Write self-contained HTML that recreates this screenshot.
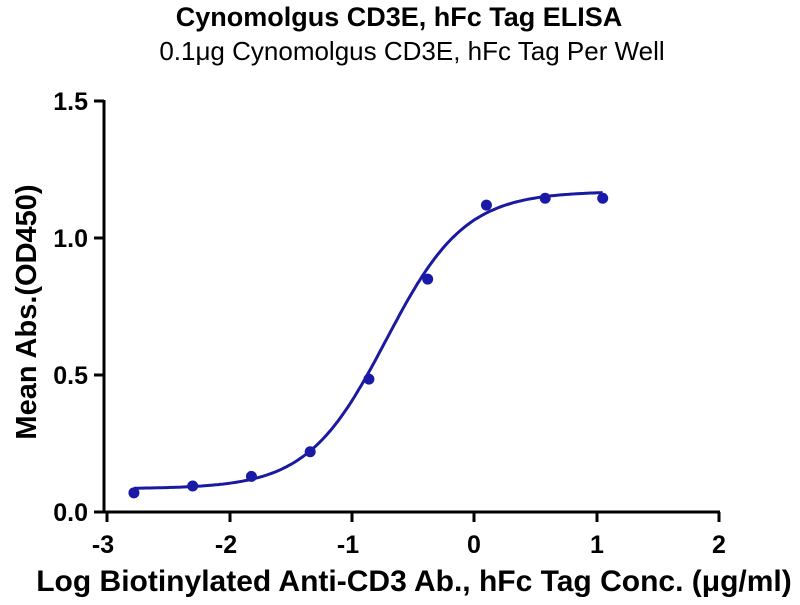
<!DOCTYPE html>
<html><head><style>body{margin:0;background:#fff}</style></head><body>
<svg width="800" height="600" xmlns="http://www.w3.org/2000/svg" font-family="Liberation Sans, Arial, sans-serif">
<text x="399" y="26" text-anchor="middle" font-weight="bold" font-size="27">Cynomolgus CD3E, hFc Tag ELISA</text>
<text x="412" y="60" text-anchor="middle" font-size="26">0.1μg Cynomolgus CD3E, hFc Tag Per Well</text>
<g stroke="#000" stroke-width="3" fill="none">
<line x1="104" y1="100" x2="104" y2="513"/>
<line x1="103" y1="512" x2="720" y2="512"/>
<line x1="94" y1="101" x2="104" y2="101"/>
<line x1="94" y1="238" x2="104" y2="238"/>
<line x1="94" y1="375" x2="104" y2="375"/>
<line x1="94" y1="512" x2="104" y2="512"/>
<line x1="107" y1="512" x2="107" y2="522"/>
<line x1="230" y1="512" x2="230" y2="522"/>
<line x1="352" y1="512" x2="352" y2="522"/>
<line x1="474" y1="512" x2="474" y2="522"/>
<line x1="597" y1="512" x2="597" y2="522"/>
<line x1="719" y1="512" x2="719" y2="522"/>
</g>
<g font-size="25" font-weight="bold" text-anchor="end">
<text x="88" y="110">1.5</text><text x="88" y="247">1.0</text><text x="88" y="384">0.5</text><text x="88" y="521">0.0</text>
</g>
<g font-size="25" font-weight="bold" text-anchor="middle">
<text x="103" y="553">-3</text><text x="226" y="553">-2</text><text x="348" y="553">-1</text><text x="474" y="553">0</text><text x="597" y="553">1</text><text x="719" y="553">2</text>
</g>
<text x="414" y="591" text-anchor="middle" font-size="30" font-weight="bold">Log Biotinylated Anti-CD3 Ab., hFc Tag Conc. (μg/ml)</text>
<text transform="translate(36,312) rotate(-90)" text-anchor="middle" font-size="29" font-weight="bold">Mean Abs.(OD450)</text>
<path id="c" fill="none" stroke="#1a1aa0" stroke-width="3"/>
<g id="p" fill="#1a1aa8"></g>
</svg>
<script>
var X=function(v){return 107+v*122.4+3*122.4},Y=function(v){return 512-v*274};
var d="";for(var i=0;i<=200;i++){var x=-2.78+i*(1.05+2.78)/200;var y=0.085+(1.17-0.085)/(1+Math.pow(10,(-0.72-x)*1.35));d+=(i?"L":"M")+X(x).toFixed(1)+","+Y(y).toFixed(1);}
document.getElementById("c").setAttribute("d",d);
var pts=[[-2.78,0.07],[-2.3,0.095],[-1.82,0.13],[-1.34,0.22],[-0.86,0.485],[-0.38,0.85],[0.1,1.12],[0.58,1.145],[1.05,1.145]];
var g=document.getElementById("p");pts.forEach(function(p){var c=document.createElementNS("http://www.w3.org/2000/svg","circle");c.setAttribute("cx",X(p[0]));c.setAttribute("cy",Y(p[1]));c.setAttribute("r",5.5);g.appendChild(c);});
</script>
</body></html>
